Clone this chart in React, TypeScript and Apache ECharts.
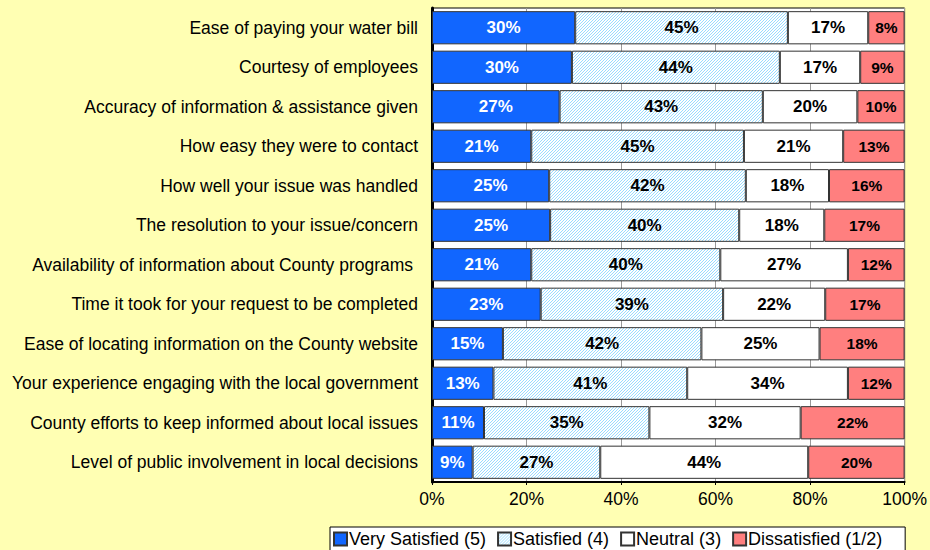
import React, { useEffect, useRef } from "react";
import * as echarts from "echarts";

const categories = [
  "Ease of paying your water bill",
  "Courtesy of employees",
  "Accuracy of information & assistance given",
  "How easy they were to contact",
  "How well your issue was handled",
  "The resolution to your issue/concern",
  "Availability of information about County programs ",
  "Time it took for your request to be completed",
  "Ease of locating information on the County website",
  "Your experience engaging with the local government",
  "County efforts to keep informed about local issues",
  "Level of public involvement in local decisions",
];
const verySatisfied = [30.3, 29.6, 27, 21, 24.8, 25, 21, 23, 15, 13, 11, 8.6];
const satisfied = [45, 44, 43, 45, 41.6, 40, 40, 38.6, 42, 41, 35, 27];
const neutral = [17, 17, 20, 21, 17.6, 18, 27, 21.6, 25, 34, 32, 44];
const dissatisfied = [7.7, 9.4, 10, 13, 16, 17, 12, 16.8, 18, 12, 22, 20.4];
const seriesNames = ["Very Satisfied (5)", "Satisfied (4)", "Neutral (3)", "Dissatisfied (1/2)"];
const xTicks = [0, 20, 40, 60, 80, 100];

function makeHatch(): HTMLCanvasElement {
  const c = document.createElement("canvas");
  c.width = 6;
  c.height = 6;
  const ctx = c.getContext("2d")!;
  ctx.fillStyle = "#ffffff";
  ctx.fillRect(0, 0, 6, 6);
  ctx.fillStyle = "#99dcff";
  for (let x = 0; x < 6; x++) {
    for (let y = 0; y < 6; y++) {
      if ((x + y) % 3 === 0) ctx.fillRect(x, y, 1, 1);
    }
  }
  return c;
}

export default function App() {
  const ref = useRef<HTMLDivElement>(null);
  useEffect(() => {
    if (!ref.current) return;
    const chart = echarts.init(ref.current, undefined, { renderer: "svg" });
    const hatch = makeHatch();
    const font = "Liberation Sans, Arial, sans-serif";
    const rev = <T,>(a: T[]) => a.slice().reverse();
    const mk = (name: string, data: number[], color: any, labelColor: string, labelSize: number) => ({
      name,
      type: "bar",
      stack: "total",
      barCategoryGap: "16%",
      data: rev(data),
      itemStyle: { color, borderColor: "#333333", borderWidth: 1 },
      label: {
        show: true,
        position: "inside",
        formatter: (p: any) => Math.round(p.value) + "%",
        color: labelColor,
        fontFamily: font,
        fontWeight: "bold",
        fontSize: labelSize,
      },
    });
    chart.setOption({
      animation: false,
      backgroundColor: "#ffffb3",
      grid: {
        left: 432,
        right: 24,
        top: 8,
        bottom: 68,
        show: true,
        backgroundColor: "#ffffff",
        borderColor: "#000000",
        borderWidth: 1,
      },
      legend: {
        top: 527,
        left: 330,
        data: seriesNames,
        itemWidth: 13,
        itemHeight: 13,
        itemGap: 11,
        padding: [3, 23, 8, 3],
        backgroundColor: "#ffffff",
        borderColor: "#000000",
        borderWidth: 1,
        textStyle: { fontFamily: font, fontSize: 18, color: "#000000", padding: [0, 0, 0, -3] },
        icon: "rect",
      },
      xAxis: {
        type: "value",
        min: 0,
        max: 100,
        interval: 20,
        axisLine: { show: true, lineStyle: { color: "#000000", width: 2 } },
        axisTick: { show: true, length: 3, lineStyle: { color: "#000000" } },
        splitLine: { show: true, lineStyle: { color: "#999999", width: 1 } },
        axisLabel: {
          formatter: (v: number) => (xTicks.includes(v) ? v + "%" : ""),
          fontFamily: font,
          fontSize: 17.5,
          color: "#000000",
          margin: 8,
        },
      },
      yAxis: {
        type: "category",
        data: rev(categories),
        axisLine: { show: true, lineStyle: { color: "#000000", width: 3 } },
        axisTick: { show: false },
        axisLabel: {
          fontFamily: font,
          fontSize: 17.5,
          color: "#000000",
          margin: 14,
        },
      },
      series: [
        mk(seriesNames[0], verySatisfied, "#1166ff", "#ffffff", 17),
        mk(seriesNames[1], satisfied, { image: hatch, repeat: "repeat" }, "#000000", 17),
        mk(seriesNames[2], neutral, "#ffffff", "#000000", 17),
        mk(seriesNames[3], dissatisfied, "#ff7f7f", "#000000", 15.5),
      ],
    });
    return () => chart.dispose();
  }, []);
  return (
    <div
      ref={ref}
      style={{ position: "fixed", left: 0, top: 0, width: 930, height: 550 }}
    />
  );
}
